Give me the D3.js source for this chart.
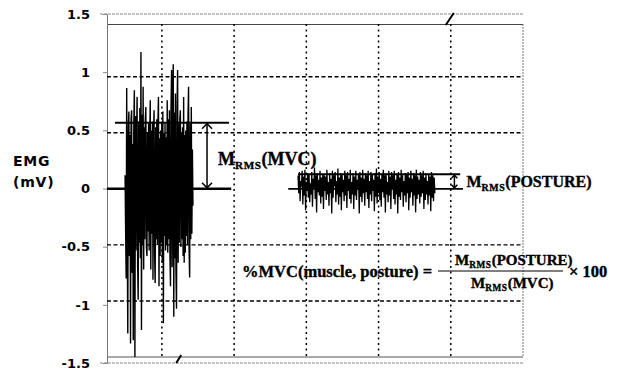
<!DOCTYPE html>
<html>
<head>
<meta charset="utf-8">
<script src="https://cdn.jsdelivr.net/npm/d3@7"></script>
<style>
  html, body { margin: 0; padding: 0; background: #fff; }
  svg { display: block; }
</style>
</head>
<body>
<svg id="chart" width="622" height="371"></svg>
<script>
// ---------------- DATA ----------------
const yTickValues = [-1.5, -1, -0.5, 0, 0.5, 1, 1.5];
const yTickLabels = ["-1.5", "-1", "-0.5", "0", "0.5", "1", "1.5"];
const yGridValues = [-1, -0.5, 0.5, 1];
const xGridValues = [1, 2, 3, 4, 5];           // time (s)
const yLabelLines = ["EMG", "(mV)"];

// MVC burst: start/end time (s) and sampled EMG (mV)
const mvcTime = [0.49, 1.43];
const mvcValues = [
  0.12,-0.35,-0.80,0.90,-0.42,-1.29,0.55,0.69,-0.60,0.48,
  -1.38,0.62,0.70,-0.75,0.40,-1.35,0.58,0.88,-1.50,0.65,
  -0.55,0.45,0.82,-0.70,-0.99,0.60,-0.48,0.72,-0.62,1.22,
  -1.26,0.66,-0.50,0.91,-0.72,0.55,-0.45,0.62,0.73,-0.52,
  -0.60,0.50,-0.38,0.58,-0.55,0.44,0.79,-0.72,0.52,-0.40,
  0.60,-0.81,0.48,0.70,-0.58,-0.84,0.55,-0.45,0.62,-0.50,
  0.58,0.82,-0.87,0.45,-0.60,0.52,-0.48,0.60,-0.66,0.69,
  -1.20,0.50,-0.42,0.58,-0.55,0.46,-0.50,0.79,-0.57,0.62,
  -0.45,0.70,-0.60,-0.87,0.75,1.06,-0.70,0.82,1.11,-1.14,
  0.68,-0.62,0.85,-0.75,-1.07,0.72,1.06,-0.66,0.58,-0.48,
  0.62,0.70,-0.52,0.50,-0.45,0.55,-0.60,0.82,-0.66,0.48,
  -0.57,0.52,-0.42,0.60,-0.50,0.66,0.91,-0.55,-0.79,0.58,
  -0.45,0.73,-0.40,0.35,-0.15
];

// Posture recording: start/end time (s) and sampled EMG (mV)
const postureTime = [2.885, 4.78];
const postureValues = [
  0.12,-0.04,0.15,-0.11,0.07,0.02,0.16,-0.14,0.11,-0.06,0.17,-0.19,0.06,-0.02,0.14,-0.08,0.13,-0.12,0.05,-0.05,
  0.15,-0.16,0.09,0.01,0.19,-0.09,0.12,-0.21,0.14,-0.03,0.08,-0.06,0.16,-0.13,0.10,-0.07,0.13,-0.18,0.12,-0.02,
  0.11,-0.10,0.17,-0.05,0.06,-0.15,0.14,-0.04,0.09,-0.22,0.16,-0.08,0.12,0.02,0.15,-0.12,0.07,-0.05,0.18,-0.14,
  0.10,-0.07,0.14,-0.19,0.13,-0.03,0.08,-0.11,0.16,-0.06,0.12,-0.17,0.15,-0.02,0.09,-0.09,0.17,-0.13,0.06,-0.05,
  0.14,-0.18,0.11,-0.06,0.16,-0.10,0.08,0.01,0.13,-0.22,0.15,-0.07,0.10,-0.12,0.17,-0.04,0.09,-0.15,0.14,-0.03,
  0.12,-0.09,0.16,-0.17,0.07,-0.05,0.15,-0.11,0.13,-0.02,0.08,-0.20,0.14,-0.07,0.18,-0.13,0.11,-0.04,0.15,-0.10,
  0.09,-0.16,0.13,-0.03,0.17,-0.08,0.12,-0.21,0.14,-0.05,0.06,-0.12,0.16,-0.06,0.11,-0.18,0.15,0.00,0.12,-0.09,
  0.16,-0.14,0.08,-0.05,0.13,-0.22,0.15,-0.07,0.10,-0.10,0.17,-0.03,0.12,-0.16,0.07,-0.06,0.14,-0.12,0.13,-0.04,
  0.15,-0.19,0.10,-0.08,0.16,-0.03,0.09,-0.15,0.14,-0.06,0.12,-0.21,0.17,-0.09,0.11,-0.05,0.08,-0.13,0.15,-0.07,
  0.12,-0.04,0.16,-0.18,0.10,-0.10,0.14,-0.05,0.07,-0.14,0.13,-0.06,0.11,-0.20,0.15,-0.08,0.12,-0.11,0.10,-0.04
];

// RMS levels (mV) and annotation extents (s)
const mvcRms = 0.59;
const postureRms = 0.13;
const mvcTopLine = [0.35, 1.93];
const mvcZeroLine = [0.24, 1.96];
const mvcArrowT = 1.625;
const postureTopLine = [2.885, 5.13];
const postureZeroLine = [2.75, 5.17];
const postureArrowT = 5.05;
const breakTopT = 5.0;
const breakBottomT = 1.24;

// ---------------- SCALES ----------------
const svg = d3.select("#chart");
const plot = { left: 107, right: 523, top: 24, bottom: 357 };
const outer = { top: 14, bottom: 363 };

const x = d3.scaleLinear().domain([0.24, 6.0]).range([plot.left, plot.right]);
const y = d3.scaleLinear().domain([-1.5, 1.47]).range([plot.bottom, plot.top]);
const yAxisScale = d3.scaleLinear().domain([-1.5, 1.5]).range([outer.bottom, outer.top]);

// ---------------- FRAME ----------------
svg.append("line").attr("x1", plot.left - 7).attr("x2", plot.right).attr("y1", outer.top).attr("y2", outer.top)
  .attr("stroke", "#888").attr("stroke-width", 1).attr("stroke-dasharray", "3,1");
svg.append("line").attr("x1", plot.left - 7).attr("x2", plot.right).attr("y1", outer.bottom).attr("y2", outer.bottom)
  .attr("stroke", "#888").attr("stroke-width", 1).attr("stroke-dasharray", "3,1");
svg.append("line").attr("x1", plot.left).attr("x2", plot.right).attr("y1", plot.top + 0.5).attr("y2", plot.top + 0.5)
  .attr("stroke", "#444").attr("stroke-width", 1.2);
svg.append("line").attr("x1", plot.left).attr("x2", plot.right).attr("y1", plot.bottom).attr("y2", plot.bottom)
  .attr("stroke", "#555").attr("stroke-width", 1.2);
svg.append("line").attr("x1", plot.right).attr("x2", plot.right).attr("y1", plot.top).attr("y2", plot.bottom)
  .attr("stroke", "#777").attr("stroke-width", 1).attr("stroke-dasharray", "2,1");

// Outer y axis with tick labels
const yAxis = d3.axisLeft(yAxisScale)
  .tickValues(yTickValues)
  .tickFormat((d, i) => yTickLabels[i])
  .tickSize(4)
  .tickPadding(13);
const gAxis = svg.append("g").attr("transform", `translate(${plot.left},0)`).call(yAxis);
gAxis.select(".domain").attr("stroke", "#777").attr("stroke-width", 1);
gAxis.selectAll(".tick line").attr("stroke", "#888");
gAxis.selectAll(".tick text")
  .attr("fill", "#000")
  .style("font-family", "'DejaVu Sans', sans-serif")
  .style("font-weight", "bold")
  .style("font-size", "13px");

// Y label
svg.append("text")
  .attr("x", 13).attr("y", 166)
  .style("font-family", "'DejaVu Sans', sans-serif").style("font-weight", "bold").style("font-size", "14px")
  .style("letter-spacing", "0.8px")
  .selectAll("tspan").data(yLabelLines).join("tspan")
  .attr("x", 13).attr("dy", (d, i) => i === 0 ? 0 : 21).text(d => d);

// ---------------- GRID ----------------
svg.append("g").selectAll("line").data(yGridValues).join("line")
  .attr("x1", plot.left).attr("x2", plot.right)
  .attr("y1", d => y(d)).attr("y2", d => y(d))
  .attr("stroke", "#000").attr("stroke-width", 1.4).attr("stroke-dasharray", "4,2.5");
svg.append("g").selectAll("line").data(xGridValues).join("line")
  .attr("x1", d => x(d)).attr("x2", d => x(d))
  .attr("y1", plot.top).attr("y2", plot.bottom)
  .attr("stroke", "#000").attr("stroke-width", 1.5).attr("stroke-dasharray", "2,3.5");

// Break marks
svg.append("line").attr("x1", x(breakTopT) - 5).attr("y1", plot.top + 1).attr("x2", x(breakTopT) + 3).attr("y2", outer.top - 1)
  .attr("stroke", "#000").attr("stroke-width", 2);
svg.append("line").attr("x1", x(breakBottomT) - 3).attr("y1", outer.bottom).attr("x2", x(breakBottomT) + 2).attr("y2", plot.bottom - 2)
  .attr("stroke", "#000").attr("stroke-width", 2);

// ---------------- SIGNALS ----------------
function series(values, t) {
  const s = d3.scaleLinear().domain([0, values.length - 1]).range(t);
  return values.map((v, i) => [s(i), v]);
}
const line = d3.line().x(d => x(d[0])).y(d => y(d[1]));

svg.append("path").datum(series(postureValues, postureTime))
  .attr("d", line).attr("fill", "none").attr("stroke", "#000").attr("stroke-width", 1.3);
svg.append("path").datum(series(mvcValues, mvcTime))
  .attr("d", line).attr("fill", "none").attr("stroke", "#000").attr("stroke-width", 1.4);

// ---------------- RMS ANNOTATIONS ----------------
function hline(t, v, w) {
  svg.append("line").attr("x1", x(t[0])).attr("x2", x(t[1]))
    .attr("y1", y(v)).attr("y2", y(v)).attr("stroke", "#000").attr("stroke-width", w);
}
hline(mvcTopLine, mvcRms, 2);
hline(mvcZeroLine, 0, 2.6);
hline(postureTopLine, postureRms, 1.8);
hline(postureZeroLine, 0, 1.8);

function arrow(t, v0, v1, head) {
  const ax = x(t), ya = y(v1), yb = y(v0);
  const g = svg.append("g").attr("stroke", "#000").attr("fill", "none").attr("stroke-width", 1.5);
  g.append("line").attr("x1", ax).attr("x2", ax).attr("y1", ya + 1).attr("y2", yb - 1);
  g.append("path").attr("d", `M${ax - head},${ya + head + 1}L${ax},${ya + 1}L${ax + head},${ya + head + 1}`);
  g.append("path").attr("d", `M${ax - head},${yb - head - 1}L${ax},${yb - 1}L${ax + head},${yb - head - 1}`);
}
arrow(mvcArrowT, 0, mvcRms, 5);
arrow(postureArrowT, 0, postureRms, 3);

const serif = "'Liberation Serif', 'Times New Roman', serif";
function mrms(sel, x0, y0, size, inner) {
  const t = sel.append("text").attr("x", x0).attr("y", y0)
    .style("font-family", serif).style("font-weight", "bold").style("font-size", size + "px")
    .attr("fill", "#000").attr("stroke", "#000").attr("stroke-width", 0.35);
  t.append("tspan").text("M");
  t.append("tspan").attr("dy", size * 0.22).style("font-size", (size * 0.62) + "px").style("letter-spacing", "0.6px").text("RMS");
  t.append("tspan").attr("dy", -size * 0.22).text("(" + inner + ")");
  return t;
}
mrms(svg, x(mvcArrowT) + 11, 165, 18, "MVC");
mrms(svg, x(postureArrowT) + 12, 187, 16, "POSTURE");

// Formula
const fx = 242, fBase = 277;
svg.append("text").attr("x", fx).attr("y", fBase)
  .style("font-family", serif).style("font-weight", "bold").style("font-size", "16.5px")
  .attr("stroke", "#000").attr("stroke-width", 0.35)
  .text("%MVC(muscle, posture) =");
mrms(svg, 455, 265, 15, "POSTURE");
mrms(svg, 471, 288, 15, "MVC");
svg.append("line").attr("x1", 438).attr("x2", 563).attr("y1", 271).attr("y2", 271)
  .attr("stroke", "#000").attr("stroke-width", 1.2);
svg.append("text").attr("x", 569).attr("y", fBase)
  .style("font-family", serif).style("font-weight", "bold").style("font-size", "16.5px")
  .attr("stroke", "#000").attr("stroke-width", 0.35)
  .text("× 100");
</script>
</body>
</html>
